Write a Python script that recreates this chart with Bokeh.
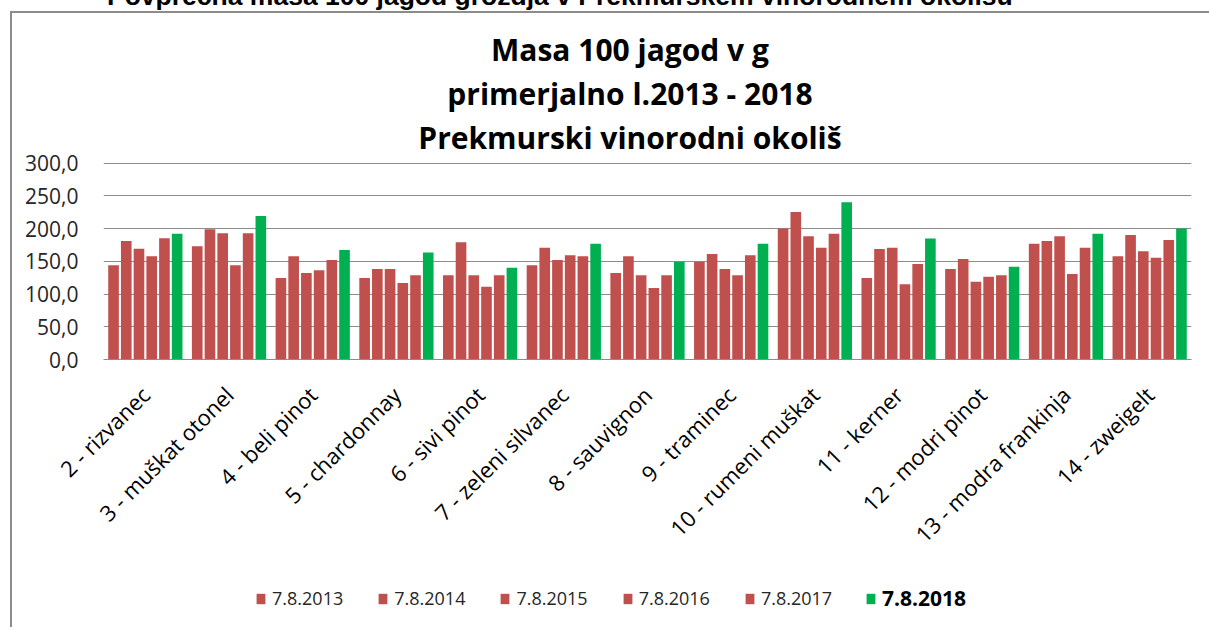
from bokeh.plotting import figure
from bokeh.models import (FactorRange, Range1d, Legend, LegendItem, ColumnDataSource,
                          Div, FixedTicker, CustomJSTickFormatter)
from bokeh.transform import dodge
from bokeh.layouts import column
from bokeh.embed import file_html
from bokeh.resources import INLINE
import math

header_text = "Povprečna masa 100 jagod grozdja v Prekmurskem vinorodnem okolišu"
title_lines = ["Masa 100 jagod v g", "primerjalno l.2013 - 2018", "Prekmurski vinorodni okoliš"]

categories = ["2 - rizvanec", "3 - muškat otonel", "4 - beli pinot", "5 - chardonnay",
              "6 - sivi pinot", "7 - zeleni silvanec", "8 - sauvignon", "9 - traminec",
              "10 - rumeni muškat", "11 - kerner", "12 - modri pinot", "13 - modra frankinja",
              "14 - zweigelt"]
series_names = ["7.8.2013", "7.8.2014", "7.8.2015", "7.8.2016", "7.8.2017", "7.8.2018"]

v2013 = [143.9, 173.0, 124.5, 124.5, 128.6, 143.9, 132.1, 149.5, 200.0, 124.5, 138.3, 177.0, 157.7]
v2014 = [181.1, 199.0, 157.7, 138.3, 179.0, 170.9, 157.7, 161.2, 225.5, 168.9, 153.6, 181.1, 190.3]
v2015 = [169.4, 192.9, 132.1, 138.3, 128.6, 152.0, 128.6, 138.3, 188.3, 170.9, 118.9, 188.3, 165.3]
v2016 = [157.7, 143.9, 136.2, 116.8, 111.2, 159.2, 109.2, 128.6, 170.9, 114.8, 126.5, 130.6, 155.6]
v2017 = [185.2, 192.9, 152.0, 128.6, 128.6, 157.7, 128.6, 159.2, 192.3, 145.9, 128.6, 170.9, 182.7]
v2018 = [192.3, 219.4, 167.3, 163.3, 140.3, 177.0, 149.5, 177.0, 240.3, 184.7, 141.8, 192.3, 200.0]

y_ticks = [0, 50, 100, 150, 200, 250, 300]

RED = "#C0504D"
GREEN = "#00B050"
GRID = "#8c8c8c"
colors = [RED, RED, RED, RED, RED, GREEN]

source = ColumnDataSource(dict(cat=categories, v2013=v2013, v2014=v2014, v2015=v2015,
                               v2016=v2016, v2017=v2017, v2018=v2018))
keys = ["v2013", "v2014", "v2015", "v2016", "v2017", "v2018"]

# chart title block (inside the chart box)
title_div = Div(text="<br>".join(title_lines), width=1199, height=138, margin=(0, 0, 0, 10),
                styles={"box-sizing": "border-box",
                        "border-left": "2px solid #8c8c8c", "border-top": "2px solid #8c8c8c",
                        "padding-top": "15px", "padding-left": "39px",
                        "text-align": "center", "font-family": "Open Sans",
                        "font-weight": "bold", "font-size": "30px", "line-height": "44px",
                        "color": "#000000"})

p = figure(x_range=FactorRange(factors=categories, range_padding=0),
           y_range=Range1d(0, 301),
           width=1199, height=422, output_backend="svg", toolbar_location=None,
           min_border_left=91, min_border_right=20, min_border_top=13,
           min_border_bottom=212, outline_line_color=None,
           margin=(0, 0, 0, 10), styles={"border-left": "2px solid #8c8c8c"})

pitch = 0.152
for i, k in enumerate(keys):
    off = (i - 2.5) * pitch
    p.vbar(x=dodge("cat", off, range=p.x_range), top=k, width=0.127, source=source,
           fill_color=colors[i], line_color=None)

p.yaxis.ticker = FixedTicker(ticks=y_ticks)
p.yaxis.formatter = CustomJSTickFormatter(code="return tick.toFixed(1).replace('.', ',');")
p.yaxis.axis_line_color = None
p.yaxis.major_tick_line_color = None
p.yaxis.minor_tick_line_color = None
p.yaxis.major_tick_out = 0
p.yaxis.major_label_standoff = 25
p.yaxis.major_label_text_font = "Open Sans"
p.yaxis.major_label_text_font_size = "21px"
p.yaxis.major_label_text_color = "#262626"

p.xaxis.axis_line_color = GRID
p.xaxis.major_tick_line_color = None
p.xaxis.minor_tick_line_color = None
p.xaxis.major_tick_out = 0
p.xaxis.major_label_orientation = math.pi / 4
p.xaxis.major_label_standoff = 31
p.xaxis.major_label_text_font = "Open Sans"
p.xaxis.major_label_text_font_size = "22px"
p.xaxis.major_label_text_color = "#000000"

p.xgrid.grid_line_color = None
p.ygrid.grid_line_color = GRID
p.ygrid.grid_line_width = 1

# legend strip below the chart (continues the chart box)
lg = figure(width=1199, height=56, x_range=Range1d(0, 1), y_range=Range1d(0, 1),
            x_axis_type=None, y_axis_type=None,
            output_backend="svg", toolbar_location=None, outline_line_color=None,
            min_border_left=0, min_border_right=0, min_border_top=0, min_border_bottom=0,
            margin=(0, 0, 0, 10), styles={"border-left": "2px solid #8c8c8c"})
lg.grid.grid_line_color = None
proxy = ColumnDataSource(dict(x=[5.0], top=[0.0]))
dummies = [lg.vbar(x="x", top="top", width=0.1, source=proxy, fill_color=c, line_color=None)
           for c in colors]

legend_a = Legend(items=[LegendItem(label=series_names[i], renderers=[dummies[i]]) for i in range(5)],
                  orientation="horizontal", location=(152, 17),
                  glyph_width=11, glyph_height=13, label_standoff=6, spacing=34,
                  padding=0, margin=0, border_line_color=None, background_fill_alpha=0,
                  label_text_font="Open Sans", label_text_font_size="18px",
                  label_text_color="#262626", label_height=20)
legend_b = Legend(items=[LegendItem(label=series_names[5], renderers=[dummies[5]])],
                  orientation="horizontal", location=(762, 15),
                  glyph_width=11, glyph_height=13, label_standoff=6,
                  padding=0, margin=0, border_line_color=None, background_fill_alpha=0,
                  label_text_font="Open Sans", label_text_font_size="21px",
                  label_text_font_style="bold", label_text_color="#000000", label_height=20)
lg.add_layout(legend_a, "center")
lg.add_layout(legend_b, "center")

header = Div(text=header_text, width=1100, height=30, margin=(-19, 0, 0, 107),
             styles={"font-family": "Liberation Sans", "font-weight": "bold",
                     "font-size": "26.5px", "line-height": "30px", "white-space": "nowrap",
                     "color": "#000000"})

layout = column(header, title_div, p, lg, spacing=0)

with open("out.html", "w") as f:
    f.write(file_html(layout, INLINE))
